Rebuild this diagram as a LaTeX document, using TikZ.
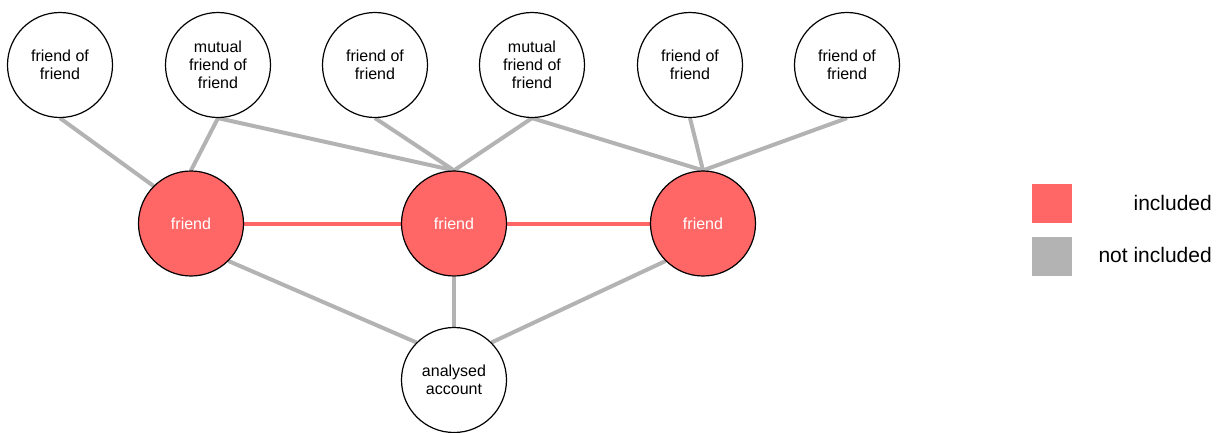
\documentclass[tikz,border=0pt]{standalone}
\usepackage{fontspec}
\setmainfont{Liberation Sans}
\usetikzlibrary{backgrounds}

\definecolor{inclred}{HTML}{FF6666}
\definecolor{exclgray}{HTML}{B3B3B3}

\tikzset{
  person/.style={circle,draw=black,line width=1.2pt,minimum size=105pt,inner sep=0pt,
    align=center,font=\fontsize{16}{17.8}\selectfont},
  outer/.style={person,fill=white},
  inner/.style={person,fill=inclred,text=white},
  notincl/.style={draw=exclgray,line width=4pt},
  incl/.style={draw=inclred,line width=4pt},
  legendbox/.style={minimum width=40pt,minimum height=39pt,inner sep=0pt},
  legendtext/.style={anchor=base east,inner sep=0pt,font=\fontsize{21}{24}\selectfont}
}

\begin{document}
\begin{tikzpicture}[x=1pt,y=-1pt]
                \useasboundingbox (0,0) rectangle (1220,432);

                % outer ring
                \node[outer] (fof1) at (60,65) {friend of\\friend};
                \node[outer] (mf1)  at (218,65) {mutual\\friend of\\friend};
                \node[outer] (fof2) at (375,65) {friend of\\friend};
                \node[outer] (mf2)  at (532,65) {mutual\\friend of\\friend};
                \node[outer] (fof3) at (690,65) {friend of\\friend};
                \node[outer] (fof4) at (847,65) {friend of\\friend};

                % friends
                \node[inner] (fr1) at (191,223.5) {friend};
                \node[inner] (fr2) at (454,223.5) {friend};
                \node[inner] (fr3) at (703,223.5) {friend};

                \node[outer] (acc) at (454,380) {analysed\\account};

                \begin{scope}[on background layer]
                    \draw[notincl] (fof1.south) -- (fr1.north west);
                    \draw[notincl] (mf1.south) -- (fr1.north);
                    \draw[notincl] (mf1.south) -- (fr2.north);
                    \draw[notincl] (fof2.south) -- (fr2.north);
                    \draw[notincl] (mf2.south) -- (fr2.north);
                    \draw[notincl] (mf2.south) -- (fr3.north);
                    \draw[notincl] (fof3.south) -- (fr3.north);
                    \draw[notincl] (fof4.south) -- (fr3.north);

                    \draw[notincl] (fr1.south east) -- (acc.north west);
                    \draw[notincl] (fr2.south) -- (acc.north);
                    \draw[notincl] (fr3.south west) -- (acc.north east);

                    \draw[incl] (fr1.east) -- (fr2.west);
                    \draw[incl] (fr2.east) -- (fr3.west);
                \end{scope}

                % legend
                \node[legendbox,fill=inclred] (keyincl) at (1052,203.5) {};
                \node[legendbox,fill=exclgray] (keyexcl) at (1052,256.5) {};
                \node[legendtext] (txtincl) at (1212,210) {included};
                \node[legendtext] (txtexcl) at (1212,262) {not included};
            \end{tikzpicture}
\end{document}
